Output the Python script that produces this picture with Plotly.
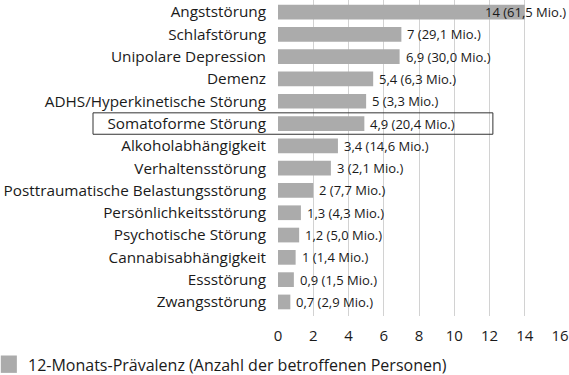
import plotly.graph_objects as go

categories = [
    "Angststörung", "Schlafstörung", "Unipolare Depression", "Demenz",
    "ADHS/Hyperkinetische Störung", "Somatoforme Störung", "Alkoholabhängigkeit",
    "Verhaltensstörung", "Posttraumatische Belastungsstörung", "Persönlichkeitsstörung",
    "Psychotische Störung", "Cannabisabhängigkeit", "Essstörung", "Zwangsstörung",
]
prevalence = [14, 7, 6.9, 5.4, 5, 4.9, 3.4, 3, 2, 1.3, 1.2, 1, 0.9, 0.7]
persons_mio = [61.5, 29.1, 30.0, 6.3, 3.3, 20.4, 14.6, 2.1, 7.7, 4.3, 5.0, 1.4, 1.5, 2.9]
x_ticks = [0, 2, 4, 6, 8, 10, 12, 14, 16]
highlight = "Somatoforme Störung"
legend_name = "12-Monats-Prävalenz (Anzahl der betroffenen Personen)"

FONT = "Open Sans"
TXT = "#1a1a1a"
BAR = "#ababab"


def de(v, force_dec=False):
    if not force_dec and float(v).is_integer():
        return str(int(v))
    return f"{v:.1f}".replace(".", ",")


labels = [f"{de(v)} ({de(p, True)} Mio.)" for v, p in zip(prevalence, persons_mio)]
ypos = list(range(len(categories)))

fig = go.Figure()
fig.add_trace(go.Bar(
    x=prevalence, y=ypos, orientation="h", width=0.66,
    marker=dict(color=BAR, line=dict(width=0)),
    name=legend_name, showlegend=False, hoverinfo="skip",
))

for v, y, t in zip(prevalence, ypos, labels):
    if v > 13:
        fig.add_annotation(x=1.03, xref="paper", y=y, yref="y", text=t, showarrow=False,
                           xanchor="right", yanchor="middle",
                           font=dict(family=FONT, size=13, color=TXT))
    else:
        fig.add_annotation(x=v, y=y, text=t, showarrow=False, xanchor="left", yanchor="middle",
                           xshift=4, font=dict(family=FONT, size=13, color=TXT))

hi = categories.index(highlight)
fig.add_shape(type="rect", xref="paper", yref="y", x0=-0.656, x1=0.762,
              y0=hi - 0.48, y1=hi + 0.48, line=dict(color="#333333", width=1))

# legend (swatch + text) below the axis
fig.add_shape(type="rect", xref="paper", yref="paper", x0=-0.983, x1=-0.926,
              y0=-0.125, y1=-0.18, line=dict(width=0), fillcolor=BAR)
fig.add_annotation(x=-0.893, xref="paper", y=-0.155, yref="paper", text=legend_name,
                   showarrow=False, xanchor="left", yanchor="middle",
                   font=dict(family=FONT, size=16, color=TXT))

fig.update_layout(
    width=569, height=375,
    margin=dict(l=278, r=9, t=0, b=59),
    paper_bgcolor="white", plot_bgcolor="white",
    font=dict(family=FONT, color=TXT, size=15),
    showlegend=False,
    xaxis=dict(range=[0, 16], tickvals=x_ticks, ticktext=[str(t) for t in x_ticks],
               showgrid=True, gridcolor="#d2d2d2", gridwidth=1, zeroline=False,
               showline=False, ticks="", tickfont=dict(size=15), ticklabelstandoff=9,
               automargin=False),
    yaxis=dict(range=[13.63, -0.54], tickvals=ypos, ticktext=categories,
               showgrid=False, zeroline=False, showline=False, ticks="",
               tickfont=dict(size=15.3), ticklabelstandoff=11, automargin=False),
)

fig.write_html("out.html", config={"displayModeBar": False},
               post_script="document.body.style.margin='0';document.body.style.padding='0';")
